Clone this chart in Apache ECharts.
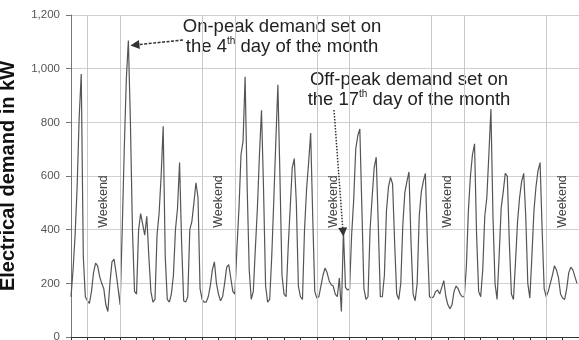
<!DOCTYPE html>
<html>
<head>
<meta charset="utf-8">
<script src="https://cdn.jsdelivr.net/npm/echarts@6/dist/echarts.min.js"></script>
<style>
html, body { margin: 0; padding: 0; background: #fff; }
#chart { width: 579px; height: 340px; }
</style>
</head>
<body>
<div id="chart"></div>
<script>
// readings every 3 hours, one row per day
const hours = [0, 3, 6, 9, 12, 15, 18, 21]
const week1 = [
    [150, 250, 380, 560, 820, 980, 300, 150],
    [135, 125, 170, 240, 275, 265, 225, 200],
    [180, 120, 95, 200, 280, 290, 240, 180],
    [120, 400, 700, 960, 1105, 800, 400, 170],
    [160, 400, 460, 420, 380, 450, 300, 170],
    [130, 140, 380, 460, 600, 785, 300, 140],
    [130, 160, 230, 400, 480, 650, 350, 135]
]
const week2 = [
    [130, 150, 400, 430, 500, 575, 520, 180],
    [140, 130, 130, 150, 190, 250, 280, 200],
    [160, 135, 150, 200, 260, 270, 220, 170],
    [160, 330, 480, 680, 730, 970, 560, 250],
    [140, 170, 330, 480, 680, 845, 550, 190],
    [130, 140, 300, 510, 730, 940, 600, 230],
    [160, 150, 330, 480, 630, 665, 500, 190]
]
const week3 = [
    [150, 140, 400, 550, 650, 760, 450, 170],
    [145, 150, 190, 230, 257, 240, 210, 195],
    [190, 160, 150, 220, 95, 395, 185, 175],
    [180, 380, 510, 700, 750, 775, 480, 180],
    [140, 150, 400, 520, 630, 670, 420, 150],
    [150, 230, 470, 560, 595, 570, 350, 160],
    [140, 200, 420, 540, 580, 615, 350, 160]
]
const week4 = [
    [135, 200, 450, 540, 580, 610, 350, 150],
    [145, 150, 170, 175, 160, 185, 210, 150],
    [120, 105, 120, 170, 190, 180, 160, 150],
    [150, 260, 470, 600, 680, 720, 380, 170],
    [150, 250, 450, 520, 680, 850, 450, 200],
    [140, 300, 480, 540, 610, 600, 350, 160],
    [140, 280, 430, 520, 580, 610, 450, 200]
]
const week5 = [
    [145, 300, 470, 560, 620, 650, 400, 180],
    [150, 170, 200, 230, 265, 250, 220, 160],
    [145, 140, 180, 240, 260, 250, 225, 200]
]
const yTicks = [0, 200, 400, 600, 800, 1000, 1200]
const weekends = [[1, 3], [8, 10], [15, 17], [22, 24], [29, 31]]
const daysInMonth = 31

const days = [...week1, ...week2, ...week3, ...week4, ...week5]
const points = []
days.forEach((row, d) => {
    row.forEach((v, i) => points.push([d + hours[i] / 24, v]))
})

const weekendEdges = weekends.flat().filter(x => x > 0 && x < daysInMonth)

const chart = echarts.init(document.getElementById('chart'))
chart.setOption({
    animation: false,
    grid: { left: 71, right: 0, top: 15, bottom: 3, containLabel: false, outerBoundsMode: 'none' },
    xAxis: {
        type: 'value',
        min: 0,
        max: daysInMonth,
        interval: 1,
        axisLine: { show: true, lineStyle: { color: '#333', width: 1 } },
        axisTick: { show: true, length: 4, lineStyle: { color: '#333' } },
        axisLabel: { show: false },
        splitLine: { show: false }
    },
    yAxis: {
        type: 'value',
        min: yTicks[0],
        max: yTicks[yTicks.length - 1],
        interval: yTicks[1] - yTicks[0],
        name: 'Electrical demand in kW',
        nameLocation: 'middle',
        nameGap: 53,
        nameTextStyle: { fontFamily: 'Liberation Sans', fontSize: 20, fontWeight: 'bold', color: '#111' },
        axisLine: { show: true, lineStyle: { color: '#777' } },
        axisTick: { show: true, length: 5, lineStyle: { color: '#777' } },
        axisLabel: {
            margin: 11,
            fontFamily: 'Liberation Sans',
            fontSize: 11.5,
            color: '#555',
            formatter: v => v.toLocaleString('en-US')
        },
        splitLine: { show: true, lineStyle: { color: '#d0d0d0', width: 1 } }
    },
    series: [
        {
            type: 'line',
            data: points,
            showSymbol: false,
            symbol: 'none',
            lineStyle: { color: '#555', width: 1.2 },
            z: 3,
            markArea: {
                silent: true,
                itemStyle: { color: 'rgba(0,0,0,0)' },
                label: {
                    show: true,
                    position: 'inside',
                    rotate: 90,
                    formatter: 'Weekend',
                    fontFamily: 'Liberation Sans',
                    fontSize: 12.5,
                    color: '#444'
                },
                data: weekends.map(([a, b]) => [{ xAxis: a, yAxis: 405 }, { xAxis: b, yAxis: 605 }])
            },
            markLine: {
                silent: true,
                symbol: ['none', 'none'],
                label: { show: false },
                lineStyle: { color: '#c8c8c8', type: 'solid', width: 1 },
                data: [
                    ...weekendEdges.map(x => ({ xAxis: x })),
                    [
                        { coord: [6.83, 1107], symbol: 'none', lineStyle: { color: '#333', type: [3, 1.5], width: 1.5 } },
                        { coord: [3.9, 1088], symbol: 'triangle', symbolSize: 9 }
                    ],
                    [
                        { coord: [16.05, 846], symbol: 'none', lineStyle: { color: '#333', type: 'dotted', width: 1.5 } },
                        { coord: [16.6, 391], symbol: 'triangle', symbolSize: 9 }
                    ]
                ]
            }
        }
    ],
    graphic: [
        {
            type: 'text',
            x: 282,
            y: 36.5,
            style: {
                text: 'On-peak demand set on\nthe 4{s|th} day of the month',
                fontFamily: 'Liberation Sans',
                fontSize: 18.5,
                lineHeight: 20,
                fill: '#222',
                align: 'center',
                verticalAlign: 'middle',
                rich: { s: { fontSize: 10, verticalAlign: 'top', lineHeight: 20, fill: '#222' } }
            }
        },
        {
            type: 'text',
            x: 409,
            y: 89.5,
            style: {
                text: 'Off-peak demand set on\nthe 17{s|th} day of the month',
                fontFamily: 'Liberation Sans',
                fontSize: 18.5,
                lineHeight: 20,
                fill: '#222',
                align: 'center',
                verticalAlign: 'middle',
                rich: { s: { fontSize: 10, verticalAlign: 'top', lineHeight: 20, fill: '#222' } }
            }
        }
    ]
})
</script>
</body>
</html>
